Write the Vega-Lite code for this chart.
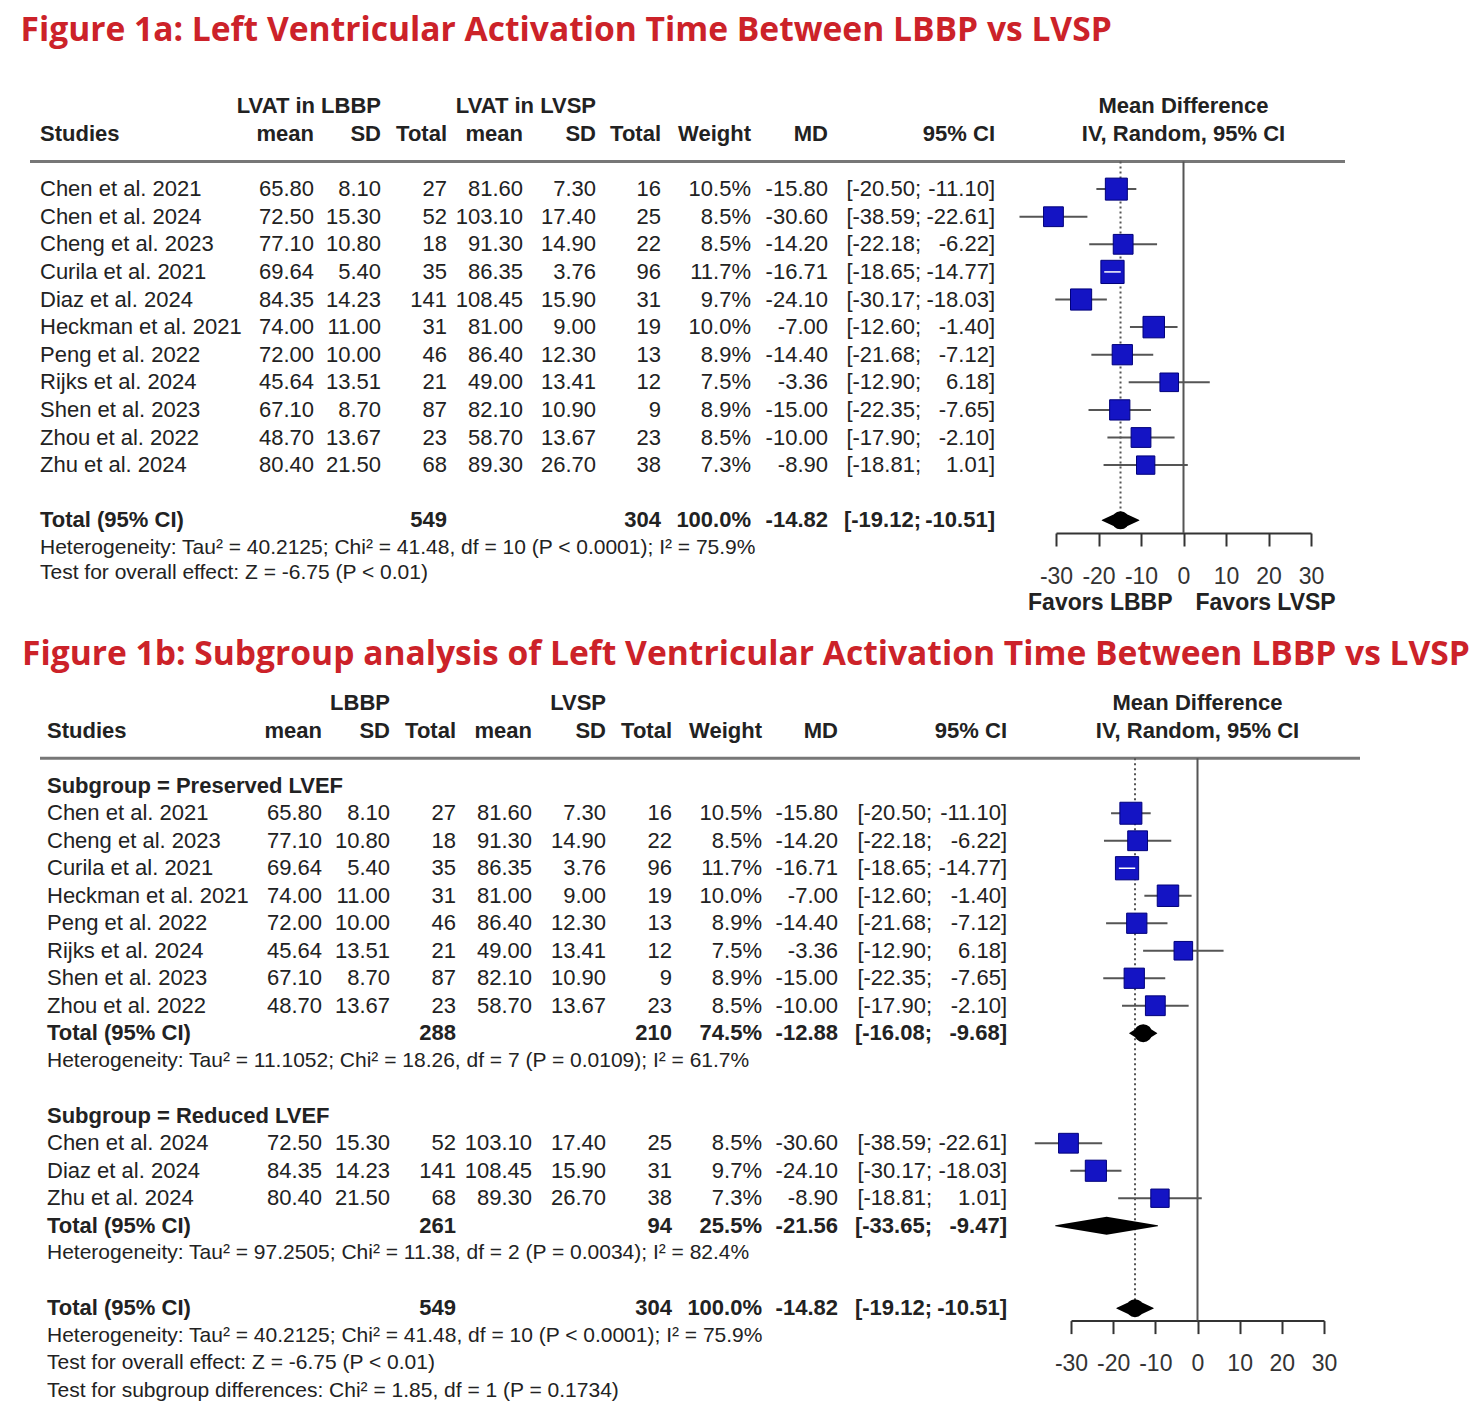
{
"$schema": "https://vega.github.io/schema/vega-lite/v6.json",
"background": "white",
"padding": {"left": 20, "top": 14, "right": 0, "bottom": 0},
"autosize": {"type": "pad"},
"datasets": {
"a": [
{"row":0,"type":"study","label":"Chen et al. 2021","m1":65.80,"s1":8.10,"n1":27,"m2":81.60,"s2":7.30,"n2":16,"w":0.105,"md":-15.80,"lo":-20.50,"hi":-11.10},
{"row":1,"type":"study","label":"Chen et al. 2024","m1":72.50,"s1":15.30,"n1":52,"m2":103.10,"s2":17.40,"n2":25,"w":0.085,"md":-30.60,"lo":-38.59,"hi":-22.61},
{"row":2,"type":"study","label":"Cheng et al. 2023","m1":77.10,"s1":10.80,"n1":18,"m2":91.30,"s2":14.90,"n2":22,"w":0.085,"md":-14.20,"lo":-22.18,"hi":-6.22},
{"row":3,"type":"study","label":"Curila et al. 2021","m1":69.64,"s1":5.40,"n1":35,"m2":86.35,"s2":3.76,"n2":96,"w":0.117,"md":-16.71,"lo":-18.65,"hi":-14.77},
{"row":4,"type":"study","label":"Diaz et al. 2024","m1":84.35,"s1":14.23,"n1":141,"m2":108.45,"s2":15.90,"n2":31,"w":0.097,"md":-24.10,"lo":-30.17,"hi":-18.03},
{"row":5,"type":"study","label":"Heckman et al. 2021","m1":74.00,"s1":11.00,"n1":31,"m2":81.00,"s2":9.00,"n2":19,"w":0.100,"md":-7.00,"lo":-12.60,"hi":-1.40},
{"row":6,"type":"study","label":"Peng et al. 2022","m1":72.00,"s1":10.00,"n1":46,"m2":86.40,"s2":12.30,"n2":13,"w":0.089,"md":-14.40,"lo":-21.68,"hi":-7.12},
{"row":7,"type":"study","label":"Rijks et al. 2024","m1":45.64,"s1":13.51,"n1":21,"m2":49.00,"s2":13.41,"n2":12,"w":0.075,"md":-3.36,"lo":-12.90,"hi":6.18},
{"row":8,"type":"study","label":"Shen et al. 2023","m1":67.10,"s1":8.70,"n1":87,"m2":82.10,"s2":10.90,"n2":9,"w":0.089,"md":-15.00,"lo":-22.35,"hi":-7.65},
{"row":9,"type":"study","label":"Zhou et al. 2022","m1":48.70,"s1":13.67,"n1":23,"m2":58.70,"s2":13.67,"n2":23,"w":0.085,"md":-10.00,"lo":-17.90,"hi":-2.10},
{"row":10,"type":"study","label":"Zhu et al. 2024","m1":80.40,"s1":21.50,"n1":68,"m2":89.30,"s2":26.70,"n2":38,"w":0.073,"md":-8.90,"lo":-18.81,"hi":1.01},
{"row":12,"type":"total","sub":"Overall","label":"Total (95% CI)","n1":549,"n2":304,"w":1.0,"md":-14.82,"lo":-19.12,"hi":-10.51},
{"row":13,"type":"het","label":"Heterogeneity: Tau² = 40.2125; Chi² = 41.48, df = 10 (P < 0.0001); I² = 75.9%"},
{"row":13.9,"type":"het","label":"Test for overall effect: Z = -6.75 (P < 0.01)"}
],
"ha": [
{"row":-2,"col":"study","label":"Studies"},
{"row":-2,"col":"m1","label":"mean"},
{"row":-3,"col":"s1","label":"LVAT in LBBP"},
{"row":-2,"col":"s1","label":"SD"},
{"row":-2,"col":"n1","label":"Total"},
{"row":-2,"col":"m2","label":"mean"},
{"row":-3,"col":"s2","label":"LVAT in LVSP"},
{"row":-2,"col":"s2","label":"SD"},
{"row":-2,"col":"n2","label":"Total"},
{"row":-2,"col":"w","label":"Weight"},
{"row":-2,"col":"md","label":"MD"},
{"row":-2,"col":"ci","label":"95% CI"},
{"row":-3,"col":"forest","label":"Mean Difference"},
{"row":-2,"col":"forest","label":"IV, Random, 95% CI"},
{"row":-1,"col":"line","label":""},
{"row":15,"col":"favorL","label":"Favors LBBP"},
{"row":15,"col":"favorR","label":"Favors LVSP"}
],
"b": [
{"row":0,"type":"sub","label":"Subgroup = Preserved LVEF"},
{"row":1,"type":"study","label":"Chen et al. 2021","m1":65.80,"s1":8.10,"n1":27,"m2":81.60,"s2":7.30,"n2":16,"w":0.105,"md":-15.80,"lo":-20.50,"hi":-11.10},
{"row":2,"type":"study","label":"Cheng et al. 2023","m1":77.10,"s1":10.80,"n1":18,"m2":91.30,"s2":14.90,"n2":22,"w":0.085,"md":-14.20,"lo":-22.18,"hi":-6.22},
{"row":3,"type":"study","label":"Curila et al. 2021","m1":69.64,"s1":5.40,"n1":35,"m2":86.35,"s2":3.76,"n2":96,"w":0.117,"md":-16.71,"lo":-18.65,"hi":-14.77},
{"row":4,"type":"study","label":"Heckman et al. 2021","m1":74.00,"s1":11.00,"n1":31,"m2":81.00,"s2":9.00,"n2":19,"w":0.100,"md":-7.00,"lo":-12.60,"hi":-1.40},
{"row":5,"type":"study","label":"Peng et al. 2022","m1":72.00,"s1":10.00,"n1":46,"m2":86.40,"s2":12.30,"n2":13,"w":0.089,"md":-14.40,"lo":-21.68,"hi":-7.12},
{"row":6,"type":"study","label":"Rijks et al. 2024","m1":45.64,"s1":13.51,"n1":21,"m2":49.00,"s2":13.41,"n2":12,"w":0.075,"md":-3.36,"lo":-12.90,"hi":6.18},
{"row":7,"type":"study","label":"Shen et al. 2023","m1":67.10,"s1":8.70,"n1":87,"m2":82.10,"s2":10.90,"n2":9,"w":0.089,"md":-15.00,"lo":-22.35,"hi":-7.65},
{"row":8,"type":"study","label":"Zhou et al. 2022","m1":48.70,"s1":13.67,"n1":23,"m2":58.70,"s2":13.67,"n2":23,"w":0.085,"md":-10.00,"lo":-17.90,"hi":-2.10},
{"row":9,"type":"total","sub":"Preserved","label":"Total (95% CI)","n1":288,"n2":210,"w":0.745,"md":-12.88,"lo":-16.08,"hi":-9.68},
{"row":10,"type":"het","label":"Heterogeneity: Tau² = 11.1052; Chi² = 18.26, df = 7 (P = 0.0109); I² = 61.7%"},
{"row":12,"type":"sub","label":"Subgroup = Reduced LVEF"},
{"row":13,"type":"study","label":"Chen et al. 2024","m1":72.50,"s1":15.30,"n1":52,"m2":103.10,"s2":17.40,"n2":25,"w":0.085,"md":-30.60,"lo":-38.59,"hi":-22.61},
{"row":14,"type":"study","label":"Diaz et al. 2024","m1":84.35,"s1":14.23,"n1":141,"m2":108.45,"s2":15.90,"n2":31,"w":0.097,"md":-24.10,"lo":-30.17,"hi":-18.03},
{"row":15,"type":"study","label":"Zhu et al. 2024","m1":80.40,"s1":21.50,"n1":68,"m2":89.30,"s2":26.70,"n2":38,"w":0.073,"md":-8.90,"lo":-18.81,"hi":1.01},
{"row":16,"type":"total","sub":"Reduced","label":"Total (95% CI)","n1":261,"n2":94,"w":0.255,"md":-21.56,"lo":-33.65,"hi":-9.47},
{"row":17,"type":"het","label":"Heterogeneity: Tau² = 97.2505; Chi² = 11.38, df = 2 (P = 0.0034); I² = 82.4%"},
{"row":19,"type":"total","sub":"Overall","label":"Total (95% CI)","n1":549,"n2":304,"w":1.0,"md":-14.82,"lo":-19.12,"hi":-10.51},
{"row":20,"type":"het","label":"Heterogeneity: Tau² = 40.2125; Chi² = 41.48, df = 10 (P < 0.0001); I² = 75.9%"},
{"row":21,"type":"het","label":"Test for overall effect: Z = -6.75 (P < 0.01)"},
{"row":22,"type":"het","label":"Test for subgroup differences: Chi² = 1.85, df = 1 (P = 0.1734)"}
],
"hb": [
{"row":-2,"col":"study","label":"Studies"},
{"row":-2,"col":"m1","label":"mean"},
{"row":-3,"col":"s1","label":"LBBP"},
{"row":-2,"col":"s1","label":"SD"},
{"row":-2,"col":"n1","label":"Total"},
{"row":-2,"col":"m2","label":"mean"},
{"row":-3,"col":"s2","label":"LVSP"},
{"row":-2,"col":"s2","label":"SD"},
{"row":-2,"col":"n2","label":"Total"},
{"row":-2,"col":"w","label":"Weight"},
{"row":-2,"col":"md","label":"MD"},
{"row":-2,"col":"ci","label":"95% CI"},
{"row":-3,"col":"forest","label":"Mean Difference"},
{"row":-2,"col":"forest","label":"IV, Random, 95% CI"},
{"row":-1,"col":"line","label":""}
]
},
"spacing": 22,
"vconcat": [
{
"title": {"text": "Figure 1a: Left Ventricular Activation Time Between LBBP vs LVSP", "anchor": "start", "font": "Open Sans", "fontSize": 33.6, "fontWeight": "bold", "color": "#cc2229", "dx": -8, "offset": 22, "baseline": "middle"},
"bounds": "flush",
"spacing": 0,
"hconcat": [
{"width": 10, "height": 502.3, "data": {"values": [{"line": "separator"}]}, "mark": {"type": "rule", "color": "#777", "strokeWidth": 3}, "encoding": {"x": {"value": 0}, "x2": {"value": "width"}, "y": {"datum": -1, "scale": {"domain": [-3.7, 14.5], "reverse": true}, "axis": null}}},
{"width": 210, "height": 502.3, "data": {"name": "a"},
 "encoding": {"y": {"field": "row", "type": "quantitative", "scale": {"domain": [-3.7, 14.5], "reverse": true}, "axis": null}},
 "layer": [
  {"data": {"name": "ha"}, "transform": [{"filter": "datum.col === 'study'"}], "mark": {"type": "text", "align": "left", "fontWeight": "bold"}, "encoding": {"x": {"value": 0}, "text": {"field": "label"}}},
  {"data": {"name": "ha"}, "transform": [{"filter": "datum.col === 'line'"}], "mark": {"type": "rule", "color": "#777", "strokeWidth": 3}, "encoding": {"x": {"value": 0}, "x2": {"value": "width"}}},
  {"transform": [{"filter": "isValid(datum.label)"}], "mark": {"type": "text", "align": "left", "fontWeight": {"expr": "datum.type === 'total' || datum.type === 'sub' ? 'bold' : 'normal'"}, "fontSize": {"expr": "datum.type === 'het' ? 21 : 22"}}, "encoding": {"x": {"value": 0}, "text": {"field": "label"}}}
 ]},
{"width": 64, "height": 502.3, "data": {"name": "a"},
 "encoding": {"y": {"field": "row", "type": "quantitative", "scale": {"domain": [-3.7, 14.5], "reverse": true}, "axis": null}},
 "layer": [
  {"data": {"name": "ha"}, "transform": [{"filter": "datum.col === 'm1'"}], "mark": {"type": "text", "align": "right", "fontWeight": "bold"}, "encoding": {"x": {"value": "width"}, "text": {"field": "label"}}},
  {"data": {"name": "ha"}, "transform": [{"filter": "datum.col === 'line'"}], "mark": {"type": "rule", "color": "#777", "strokeWidth": 3}, "encoding": {"x": {"value": 0}, "x2": {"value": "width"}}},
  {"transform": [{"filter": "isValid(datum.m1)"}], "mark": {"type": "text", "align": "right"}, "encoding": {"x": {"value": "width"}, "text": {"field": "m1", "type": "quantitative", "format": ".2f"}}}
 ]},
{"width": 67, "height": 502.3, "data": {"name": "a"},
 "encoding": {"y": {"field": "row", "type": "quantitative", "scale": {"domain": [-3.7, 14.5], "reverse": true}, "axis": null}},
 "layer": [
  {"data": {"name": "ha"}, "transform": [{"filter": "datum.col === 's1'"}], "mark": {"type": "text", "align": "right", "fontWeight": "bold"}, "encoding": {"x": {"value": "width"}, "text": {"field": "label"}}},
  {"data": {"name": "ha"}, "transform": [{"filter": "datum.col === 'line'"}], "mark": {"type": "rule", "color": "#777", "strokeWidth": 3}, "encoding": {"x": {"value": 0}, "x2": {"value": "width"}}},
  {"transform": [{"filter": "isValid(datum.s1)"}], "mark": {"type": "text", "align": "right"}, "encoding": {"x": {"value": "width"}, "text": {"field": "s1", "type": "quantitative", "format": ".2f"}}}
 ]},
{"width": 66, "height": 502.3, "data": {"name": "a"},
 "encoding": {"y": {"field": "row", "type": "quantitative", "scale": {"domain": [-3.7, 14.5], "reverse": true}, "axis": null}},
 "layer": [
  {"data": {"name": "ha"}, "transform": [{"filter": "datum.col === 'n1'"}], "mark": {"type": "text", "align": "right", "fontWeight": "bold"}, "encoding": {"x": {"value": "width"}, "text": {"field": "label"}}},
  {"data": {"name": "ha"}, "transform": [{"filter": "datum.col === 'line'"}], "mark": {"type": "rule", "color": "#777", "strokeWidth": 3}, "encoding": {"x": {"value": 0}, "x2": {"value": "width"}}},
  {"transform": [{"filter": "isValid(datum.n1)"}], "mark": {"type": "text", "align": "right", "fontWeight": {"expr": "datum.type === 'total' ? 'bold' : 'normal'"}}, "encoding": {"x": {"value": "width"}, "text": {"field": "n1", "type": "quantitative", "format": "d"}}}
 ]},
{"width": 76, "height": 502.3, "data": {"name": "a"},
 "encoding": {"y": {"field": "row", "type": "quantitative", "scale": {"domain": [-3.7, 14.5], "reverse": true}, "axis": null}},
 "layer": [
  {"data": {"name": "ha"}, "transform": [{"filter": "datum.col === 'm2'"}], "mark": {"type": "text", "align": "right", "fontWeight": "bold"}, "encoding": {"x": {"value": "width"}, "text": {"field": "label"}}},
  {"data": {"name": "ha"}, "transform": [{"filter": "datum.col === 'line'"}], "mark": {"type": "rule", "color": "#777", "strokeWidth": 3}, "encoding": {"x": {"value": 0}, "x2": {"value": "width"}}},
  {"transform": [{"filter": "isValid(datum.m2)"}], "mark": {"type": "text", "align": "right"}, "encoding": {"x": {"value": "width"}, "text": {"field": "m2", "type": "quantitative", "format": ".2f"}}}
 ]},
{"width": 73, "height": 502.3, "data": {"name": "a"},
 "encoding": {"y": {"field": "row", "type": "quantitative", "scale": {"domain": [-3.7, 14.5], "reverse": true}, "axis": null}},
 "layer": [
  {"data": {"name": "ha"}, "transform": [{"filter": "datum.col === 's2'"}], "mark": {"type": "text", "align": "right", "fontWeight": "bold"}, "encoding": {"x": {"value": "width"}, "text": {"field": "label"}}},
  {"data": {"name": "ha"}, "transform": [{"filter": "datum.col === 'line'"}], "mark": {"type": "rule", "color": "#777", "strokeWidth": 3}, "encoding": {"x": {"value": 0}, "x2": {"value": "width"}}},
  {"transform": [{"filter": "isValid(datum.s2)"}], "mark": {"type": "text", "align": "right"}, "encoding": {"x": {"value": "width"}, "text": {"field": "s2", "type": "quantitative", "format": ".2f"}}}
 ]},
{"width": 65, "height": 502.3, "data": {"name": "a"},
 "encoding": {"y": {"field": "row", "type": "quantitative", "scale": {"domain": [-3.7, 14.5], "reverse": true}, "axis": null}},
 "layer": [
  {"data": {"name": "ha"}, "transform": [{"filter": "datum.col === 'n2'"}], "mark": {"type": "text", "align": "right", "fontWeight": "bold"}, "encoding": {"x": {"value": "width"}, "text": {"field": "label"}}},
  {"data": {"name": "ha"}, "transform": [{"filter": "datum.col === 'line'"}], "mark": {"type": "rule", "color": "#777", "strokeWidth": 3}, "encoding": {"x": {"value": 0}, "x2": {"value": "width"}}},
  {"transform": [{"filter": "isValid(datum.n2)"}], "mark": {"type": "text", "align": "right", "fontWeight": {"expr": "datum.type === 'total' ? 'bold' : 'normal'"}}, "encoding": {"x": {"value": "width"}, "text": {"field": "n2", "type": "quantitative", "format": "d"}}}
 ]},
{"width": 90, "height": 502.3, "data": {"name": "a"},
 "encoding": {"y": {"field": "row", "type": "quantitative", "scale": {"domain": [-3.7, 14.5], "reverse": true}, "axis": null}},
 "layer": [
  {"data": {"name": "ha"}, "transform": [{"filter": "datum.col === 'w'"}], "mark": {"type": "text", "align": "right", "fontWeight": "bold"}, "encoding": {"x": {"value": "width"}, "text": {"field": "label"}}},
  {"data": {"name": "ha"}, "transform": [{"filter": "datum.col === 'line'"}], "mark": {"type": "rule", "color": "#777", "strokeWidth": 3}, "encoding": {"x": {"value": 0}, "x2": {"value": "width"}}},
  {"transform": [{"filter": "isValid(datum.w)"}], "mark": {"type": "text", "align": "right", "fontWeight": {"expr": "datum.type === 'total' ? 'bold' : 'normal'"}}, "encoding": {"x": {"value": "width"}, "text": {"field": "w", "type": "quantitative", "format": ".1%"}}}
 ]},
{"width": 77, "height": 502.3, "data": {"name": "a"},
 "encoding": {"y": {"field": "row", "type": "quantitative", "scale": {"domain": [-3.7, 14.5], "reverse": true}, "axis": null}},
 "layer": [
  {"data": {"name": "ha"}, "transform": [{"filter": "datum.col === 'md'"}], "mark": {"type": "text", "align": "right", "fontWeight": "bold"}, "encoding": {"x": {"value": "width"}, "text": {"field": "label"}}},
  {"data": {"name": "ha"}, "transform": [{"filter": "datum.col === 'line'"}], "mark": {"type": "rule", "color": "#777", "strokeWidth": 3}, "encoding": {"x": {"value": 0}, "x2": {"value": "width"}}},
  {"transform": [{"filter": "isValid(datum.md)"}], "mark": {"type": "text", "align": "right", "fontWeight": {"expr": "datum.type === 'total' ? 'bold' : 'normal'"}}, "encoding": {"x": {"value": "width"}, "text": {"field": "md", "type": "quantitative", "format": ".2f"}}}
 ]},
{"width": 93, "height": 502.3, "data": {"name": "a"},
 "encoding": {"y": {"field": "row", "type": "quantitative", "scale": {"domain": [-3.7, 14.5], "reverse": true}, "axis": null}},
 "layer": [
  {"data": {"name": "ha"}, "transform": [{"filter": "datum.col === 'line'"}], "mark": {"type": "rule", "color": "#777", "strokeWidth": 3}, "encoding": {"x": {"value": 0}, "x2": {"value": "width"}}},
  {"transform": [{"filter": "isValid(datum.lo)"}, {"calculate": "'[' + format(datum.lo, '.2f') + ';'", "as": "cil"}], "mark": {"type": "text", "align": "right", "fontWeight": {"expr": "datum.type === 'total' ? 'bold' : 'normal'"}}, "encoding": {"x": {"value": "width"}, "text": {"field": "cil"}}}
 ]},
{"width": 74, "height": 502.3, "data": {"name": "a"},
 "encoding": {"y": {"field": "row", "type": "quantitative", "scale": {"domain": [-3.7, 14.5], "reverse": true}, "axis": null}},
 "layer": [
  {"data": {"name": "ha"}, "transform": [{"filter": "datum.col === 'ci'"}], "mark": {"type": "text", "align": "right", "fontWeight": "bold"}, "encoding": {"x": {"value": "width"}, "text": {"field": "label"}}},
  {"data": {"name": "ha"}, "transform": [{"filter": "datum.col === 'line'"}], "mark": {"type": "rule", "color": "#777", "strokeWidth": 3}, "encoding": {"x": {"value": 0}, "x2": {"value": "width"}}},
  {"transform": [{"filter": "isValid(datum.hi)"}, {"calculate": "format(datum.hi, '.2f') + ']'", "as": "cir"}], "mark": {"type": "text", "align": "right", "fontWeight": {"expr": "datum.type === 'total' ? 'bold' : 'normal'"}}, "encoding": {"x": {"value": "width"}, "text": {"field": "cir"}}}
 ]},
{"width": 61, "height": 502.3, "data": {"values": [{"line": "separator"}]}, "mark": {"type": "rule", "color": "#777", "strokeWidth": 3}, "encoding": {"x": {"value": 0}, "x2": {"value": "width"}, "y": {"datum": -1, "scale": {"domain": [-3.7, 14.5], "reverse": true}, "axis": null}}},
{"width": 255, "height": 446.0, "data": {"name": "a"},
 "encoding": {"y": {"field": "row", "type": "quantitative", "scale": {"domain": [-3.7, 12.46], "reverse": true}, "axis": null}},
 "layer": [
  {"transform": [{"filter": "datum.type === 'study'"}], "mark": {"type": "rule", "color": "#555", "strokeWidth": 2}, "encoding": {"x": {"field": "lo", "type": "quantitative", "scale": {"domain": [-30, 30], "nice": false, "zero": false}, "axis": {"values": [-30, -20, -10, 0, 10, 20, 30], "title": null, "labelFlush": false, "labelOverlap": false}}, "x2": {"field": "hi"}}},
  {"data": {"name": "ha"}, "transform": [{"filter": "datum.col === 'forest'"}], "mark": {"type": "text", "fontWeight": "bold"}, "encoding": {"text": {"field": "label"}}},
  {"data": {"name": "ha"}, "transform": [{"filter": "datum.col === 'line'"}], "mark": {"type": "rule", "color": "#777", "strokeWidth": 3}, "encoding": {"x": {"value": 0}, "x2": {"value": "width"}}},
  {"data": {"name": "ha"}, "transform": [{"filter": "datum.col === 'line'"}], "mark": {"type": "rule", "color": "#555", "strokeWidth": 2, "orient": "vertical"}, "encoding": {"y2": {"value": "height"}}},
  {"transform": [{"filter": "datum.sub === 'Overall'"}], "mark": {"type": "rule", "color": "#555", "strokeWidth": 2, "strokeDash": [2, 3]}, "encoding": {"x": {"field": "md", "type": "quantitative"}, "y": {"datum": -1, "axis": null}, "y2": {"field": "row"}}},
  {"transform": [{"filter": "datum.type === 'study'"}], "mark": {"type": "point", "shape": "square", "filled": true, "fill": "#1414c4", "stroke": "#00007a", "strokeWidth": 1, "opacity": 1}, "encoding": {"x": {"field": "md", "type": "quantitative"}, "size": {"field": "w", "type": "quantitative", "scale": {"domain": [0, 1], "range": [0, 4610]}, "legend": null}}},
  {"transform": [{"filter": "datum.type === 'study' && (datum.hi - datum.lo) * 4.25 < sqrt(4610 * datum.w)"}], "mark": {"type": "rule", "color": "white", "strokeWidth": 1.5}, "encoding": {"x": {"field": "lo", "type": "quantitative"}, "x2": {"field": "hi"}}},
  {"transform": [{"filter": "datum.type === 'total'"}, {"fold": ["lo", "md", "hi"], "as": ["key", "value"]}], "mark": {"type": "trail", "color": "#000"}, "encoding": {"x": {"field": "value", "type": "quantitative"}, "detail": {"field": "row"}, "order": {"field": "value", "type": "quantitative"}, "size": {"condition": {"test": "datum.key === 'md'", "value": 18}, "value": 0}}},
  {"data": {"name": "ha"}, "transform": [{"filter": "datum.col === 'favorL'"}], "mark": {"type": "text", "fontWeight": "bold", "fontSize": 23, "align": "right", "dx": -11}, "encoding": {"text": {"field": "label"}}},
  {"data": {"name": "ha"}, "transform": [{"filter": "datum.col === 'favorR'"}], "mark": {"type": "text", "fontWeight": "bold", "fontSize": 23, "align": "left", "dx": 12}, "encoding": {"text": {"field": "label"}}}
 ]},
{"width": 34, "height": 502.3, "data": {"values": [{"line": "separator"}]}, "mark": {"type": "rule", "color": "#777", "strokeWidth": 3}, "encoding": {"x": {"value": 0}, "x2": {"value": "width"}, "y": {"datum": -1, "scale": {"domain": [-3.7, 14.5], "reverse": true}, "axis": null}}}
]
},
{
"title": {"text": "Figure 1b: Subgroup analysis of Left Ventricular Activation Time Between LBBP vs LVSP", "anchor": "start", "font": "Open Sans", "fontSize": 33.6, "fontWeight": "bold", "color": "#cc2229", "dx": -8, "offset": -5, "baseline": "middle"},
"bounds": "flush",
"spacing": 0,
"hconcat": [
{"width": 10, "height": 723.25, "data": {"values": [{"line": "none"}]}, "mark": {"type": "rule", "opacity": 0}, "encoding": {"x": {"value": 0}, "x2": {"value": "width"}, "y": {"datum": -1, "scale": {"domain": [-3.7, 22.6], "reverse": true}, "axis": null}}},
{"width": 7, "height": 723.25, "data": {"values": [{"line": "separator"}]}, "mark": {"type": "rule", "color": "#777", "strokeWidth": 3}, "encoding": {"x": {"value": 0}, "x2": {"value": "width"}, "y": {"datum": -1, "scale": {"domain": [-3.7, 22.6], "reverse": true}, "axis": null}}},
{"width": 215, "height": 723.25, "data": {"name": "b"},
 "encoding": {"y": {"field": "row", "type": "quantitative", "scale": {"domain": [-3.7, 22.6], "reverse": true}, "axis": null}},
 "layer": [
  {"data": {"name": "hb"}, "transform": [{"filter": "datum.col === 'study'"}], "mark": {"type": "text", "align": "left", "fontWeight": "bold"}, "encoding": {"x": {"value": 0}, "text": {"field": "label"}}},
  {"data": {"name": "hb"}, "transform": [{"filter": "datum.col === 'line'"}], "mark": {"type": "rule", "color": "#777", "strokeWidth": 3}, "encoding": {"x": {"value": 0}, "x2": {"value": "width"}}},
  {"transform": [{"filter": "isValid(datum.label)"}], "mark": {"type": "text", "align": "left", "fontWeight": {"expr": "datum.type === 'total' || datum.type === 'sub' ? 'bold' : 'normal'"}, "fontSize": {"expr": "datum.type === 'het' ? 21 : 22"}}, "encoding": {"x": {"value": 0}, "text": {"field": "label"}}}
 ]},
{"width": 60, "height": 723.25, "data": {"name": "b"},
 "encoding": {"y": {"field": "row", "type": "quantitative", "scale": {"domain": [-3.7, 22.6], "reverse": true}, "axis": null}},
 "layer": [
  {"data": {"name": "hb"}, "transform": [{"filter": "datum.col === 'm1'"}], "mark": {"type": "text", "align": "right", "fontWeight": "bold"}, "encoding": {"x": {"value": "width"}, "text": {"field": "label"}}},
  {"data": {"name": "hb"}, "transform": [{"filter": "datum.col === 'line'"}], "mark": {"type": "rule", "color": "#777", "strokeWidth": 3}, "encoding": {"x": {"value": 0}, "x2": {"value": "width"}}},
  {"transform": [{"filter": "isValid(datum.m1)"}], "mark": {"type": "text", "align": "right"}, "encoding": {"x": {"value": "width"}, "text": {"field": "m1", "type": "quantitative", "format": ".2f"}}}
 ]},
{"width": 68, "height": 723.25, "data": {"name": "b"},
 "encoding": {"y": {"field": "row", "type": "quantitative", "scale": {"domain": [-3.7, 22.6], "reverse": true}, "axis": null}},
 "layer": [
  {"data": {"name": "hb"}, "transform": [{"filter": "datum.col === 's1'"}], "mark": {"type": "text", "align": "right", "fontWeight": "bold"}, "encoding": {"x": {"value": "width"}, "text": {"field": "label"}}},
  {"data": {"name": "hb"}, "transform": [{"filter": "datum.col === 'line'"}], "mark": {"type": "rule", "color": "#777", "strokeWidth": 3}, "encoding": {"x": {"value": 0}, "x2": {"value": "width"}}},
  {"transform": [{"filter": "isValid(datum.s1)"}], "mark": {"type": "text", "align": "right"}, "encoding": {"x": {"value": "width"}, "text": {"field": "s1", "type": "quantitative", "format": ".2f"}}}
 ]},
{"width": 66, "height": 723.25, "data": {"name": "b"},
 "encoding": {"y": {"field": "row", "type": "quantitative", "scale": {"domain": [-3.7, 22.6], "reverse": true}, "axis": null}},
 "layer": [
  {"data": {"name": "hb"}, "transform": [{"filter": "datum.col === 'n1'"}], "mark": {"type": "text", "align": "right", "fontWeight": "bold"}, "encoding": {"x": {"value": "width"}, "text": {"field": "label"}}},
  {"data": {"name": "hb"}, "transform": [{"filter": "datum.col === 'line'"}], "mark": {"type": "rule", "color": "#777", "strokeWidth": 3}, "encoding": {"x": {"value": 0}, "x2": {"value": "width"}}},
  {"transform": [{"filter": "isValid(datum.n1)"}], "mark": {"type": "text", "align": "right", "fontWeight": {"expr": "datum.type === 'total' ? 'bold' : 'normal'"}}, "encoding": {"x": {"value": "width"}, "text": {"field": "n1", "type": "quantitative", "format": "d"}}}
 ]},
{"width": 76, "height": 723.25, "data": {"name": "b"},
 "encoding": {"y": {"field": "row", "type": "quantitative", "scale": {"domain": [-3.7, 22.6], "reverse": true}, "axis": null}},
 "layer": [
  {"data": {"name": "hb"}, "transform": [{"filter": "datum.col === 'm2'"}], "mark": {"type": "text", "align": "right", "fontWeight": "bold"}, "encoding": {"x": {"value": "width"}, "text": {"field": "label"}}},
  {"data": {"name": "hb"}, "transform": [{"filter": "datum.col === 'line'"}], "mark": {"type": "rule", "color": "#777", "strokeWidth": 3}, "encoding": {"x": {"value": 0}, "x2": {"value": "width"}}},
  {"transform": [{"filter": "isValid(datum.m2)"}], "mark": {"type": "text", "align": "right"}, "encoding": {"x": {"value": "width"}, "text": {"field": "m2", "type": "quantitative", "format": ".2f"}}}
 ]},
{"width": 74, "height": 723.25, "data": {"name": "b"},
 "encoding": {"y": {"field": "row", "type": "quantitative", "scale": {"domain": [-3.7, 22.6], "reverse": true}, "axis": null}},
 "layer": [
  {"data": {"name": "hb"}, "transform": [{"filter": "datum.col === 's2'"}], "mark": {"type": "text", "align": "right", "fontWeight": "bold"}, "encoding": {"x": {"value": "width"}, "text": {"field": "label"}}},
  {"data": {"name": "hb"}, "transform": [{"filter": "datum.col === 'line'"}], "mark": {"type": "rule", "color": "#777", "strokeWidth": 3}, "encoding": {"x": {"value": 0}, "x2": {"value": "width"}}},
  {"transform": [{"filter": "isValid(datum.s2)"}], "mark": {"type": "text", "align": "right"}, "encoding": {"x": {"value": "width"}, "text": {"field": "s2", "type": "quantitative", "format": ".2f"}}}
 ]},
{"width": 66, "height": 723.25, "data": {"name": "b"},
 "encoding": {"y": {"field": "row", "type": "quantitative", "scale": {"domain": [-3.7, 22.6], "reverse": true}, "axis": null}},
 "layer": [
  {"data": {"name": "hb"}, "transform": [{"filter": "datum.col === 'n2'"}], "mark": {"type": "text", "align": "right", "fontWeight": "bold"}, "encoding": {"x": {"value": "width"}, "text": {"field": "label"}}},
  {"data": {"name": "hb"}, "transform": [{"filter": "datum.col === 'line'"}], "mark": {"type": "rule", "color": "#777", "strokeWidth": 3}, "encoding": {"x": {"value": 0}, "x2": {"value": "width"}}},
  {"transform": [{"filter": "isValid(datum.n2)"}], "mark": {"type": "text", "align": "right", "fontWeight": {"expr": "datum.type === 'total' ? 'bold' : 'normal'"}}, "encoding": {"x": {"value": "width"}, "text": {"field": "n2", "type": "quantitative", "format": "d"}}}
 ]},
{"width": 90, "height": 723.25, "data": {"name": "b"},
 "encoding": {"y": {"field": "row", "type": "quantitative", "scale": {"domain": [-3.7, 22.6], "reverse": true}, "axis": null}},
 "layer": [
  {"data": {"name": "hb"}, "transform": [{"filter": "datum.col === 'w'"}], "mark": {"type": "text", "align": "right", "fontWeight": "bold"}, "encoding": {"x": {"value": "width"}, "text": {"field": "label"}}},
  {"data": {"name": "hb"}, "transform": [{"filter": "datum.col === 'line'"}], "mark": {"type": "rule", "color": "#777", "strokeWidth": 3}, "encoding": {"x": {"value": 0}, "x2": {"value": "width"}}},
  {"transform": [{"filter": "isValid(datum.w)"}], "mark": {"type": "text", "align": "right", "fontWeight": {"expr": "datum.type === 'total' ? 'bold' : 'normal'"}}, "encoding": {"x": {"value": "width"}, "text": {"field": "w", "type": "quantitative", "format": ".1%"}}}
 ]},
{"width": 76, "height": 723.25, "data": {"name": "b"},
 "encoding": {"y": {"field": "row", "type": "quantitative", "scale": {"domain": [-3.7, 22.6], "reverse": true}, "axis": null}},
 "layer": [
  {"data": {"name": "hb"}, "transform": [{"filter": "datum.col === 'md'"}], "mark": {"type": "text", "align": "right", "fontWeight": "bold"}, "encoding": {"x": {"value": "width"}, "text": {"field": "label"}}},
  {"data": {"name": "hb"}, "transform": [{"filter": "datum.col === 'line'"}], "mark": {"type": "rule", "color": "#777", "strokeWidth": 3}, "encoding": {"x": {"value": 0}, "x2": {"value": "width"}}},
  {"transform": [{"filter": "isValid(datum.md)"}], "mark": {"type": "text", "align": "right", "fontWeight": {"expr": "datum.type === 'total' ? 'bold' : 'normal'"}}, "encoding": {"x": {"value": "width"}, "text": {"field": "md", "type": "quantitative", "format": ".2f"}}}
 ]},
{"width": 94, "height": 723.25, "data": {"name": "b"},
 "encoding": {"y": {"field": "row", "type": "quantitative", "scale": {"domain": [-3.7, 22.6], "reverse": true}, "axis": null}},
 "layer": [
  {"data": {"name": "hb"}, "transform": [{"filter": "datum.col === 'line'"}], "mark": {"type": "rule", "color": "#777", "strokeWidth": 3}, "encoding": {"x": {"value": 0}, "x2": {"value": "width"}}},
  {"transform": [{"filter": "isValid(datum.lo)"}, {"calculate": "'[' + format(datum.lo, '.2f') + ';'", "as": "cil"}], "mark": {"type": "text", "align": "right", "fontWeight": {"expr": "datum.type === 'total' ? 'bold' : 'normal'"}}, "encoding": {"x": {"value": "width"}, "text": {"field": "cil"}}}
 ]},
{"width": 75, "height": 723.25, "data": {"name": "b"},
 "encoding": {"y": {"field": "row", "type": "quantitative", "scale": {"domain": [-3.7, 22.6], "reverse": true}, "axis": null}},
 "layer": [
  {"data": {"name": "hb"}, "transform": [{"filter": "datum.col === 'ci'"}], "mark": {"type": "text", "align": "right", "fontWeight": "bold"}, "encoding": {"x": {"value": "width"}, "text": {"field": "label"}}},
  {"data": {"name": "hb"}, "transform": [{"filter": "datum.col === 'line'"}], "mark": {"type": "rule", "color": "#777", "strokeWidth": 3}, "encoding": {"x": {"value": 0}, "x2": {"value": "width"}}},
  {"transform": [{"filter": "isValid(datum.hi)"}, {"calculate": "format(datum.hi, '.2f') + ']'", "as": "cir"}], "mark": {"type": "text", "align": "right", "fontWeight": {"expr": "datum.type === 'total' ? 'bold' : 'normal'"}}, "encoding": {"x": {"value": "width"}, "text": {"field": "cir"}}}
 ]},
{"width": 64, "height": 723.25, "data": {"values": [{"line": "separator"}]}, "mark": {"type": "rule", "color": "#777", "strokeWidth": 3}, "encoding": {"x": {"value": 0}, "x2": {"value": "width"}, "y": {"datum": -1, "scale": {"domain": [-3.7, 22.6], "reverse": true}, "axis": null}}},
{"width": 253, "height": 636.6, "data": {"name": "b"},
 "encoding": {"y": {"field": "row", "type": "quantitative", "scale": {"domain": [-3.7, 19.45], "reverse": true}, "axis": null}},
 "layer": [
  {"transform": [{"filter": "datum.type === 'study'"}], "mark": {"type": "rule", "color": "#555", "strokeWidth": 2}, "encoding": {"x": {"field": "lo", "type": "quantitative", "scale": {"domain": [-30, 30], "nice": false, "zero": false}, "axis": {"values": [-30, -20, -10, 0, 10, 20, 30], "title": null, "labelFlush": false, "labelOverlap": false}}, "x2": {"field": "hi"}}},
  {"data": {"name": "hb"}, "transform": [{"filter": "datum.col === 'forest'"}], "mark": {"type": "text", "fontWeight": "bold"}, "encoding": {"text": {"field": "label"}}},
  {"data": {"name": "hb"}, "transform": [{"filter": "datum.col === 'line'"}], "mark": {"type": "rule", "color": "#777", "strokeWidth": 3}, "encoding": {"x": {"value": 0}, "x2": {"value": "width"}}},
  {"data": {"name": "hb"}, "transform": [{"filter": "datum.col === 'line'"}], "mark": {"type": "rule", "color": "#555", "strokeWidth": 2, "orient": "vertical"}, "encoding": {"y2": {"value": "height"}}},
  {"transform": [{"filter": "datum.sub === 'Overall'"}], "mark": {"type": "rule", "color": "#555", "strokeWidth": 2, "strokeDash": [2, 3]}, "encoding": {"x": {"field": "md", "type": "quantitative"}, "y": {"datum": -1, "axis": null}, "y2": {"field": "row"}}},
  {"transform": [{"filter": "datum.type === 'study'"}], "mark": {"type": "point", "shape": "square", "filled": true, "fill": "#1414c4", "stroke": "#00007a", "strokeWidth": 1, "opacity": 1}, "encoding": {"x": {"field": "md", "type": "quantitative"}, "size": {"field": "w", "type": "quantitative", "scale": {"domain": [0, 1], "range": [0, 4610]}, "legend": null}}},
  {"transform": [{"filter": "datum.type === 'study' && (datum.hi - datum.lo) * 4.22 < sqrt(4610 * datum.w)"}], "mark": {"type": "rule", "color": "white", "strokeWidth": 1.5}, "encoding": {"x": {"field": "lo", "type": "quantitative"}, "x2": {"field": "hi"}}},
  {"transform": [{"filter": "datum.type === 'total'"}, {"fold": ["lo", "md", "hi"], "as": ["key", "value"]}], "mark": {"type": "trail", "color": "#000"}, "encoding": {"x": {"field": "value", "type": "quantitative"}, "detail": {"field": "row"}, "order": {"field": "value", "type": "quantitative"}, "size": {"condition": {"test": "datum.key === 'md'", "value": 18}, "value": 0}}}
 ]},
{"width": 36, "height": 723.25, "data": {"values": [{"line": "separator"}]}, "mark": {"type": "rule", "color": "#777", "strokeWidth": 3}, "encoding": {"x": {"value": 0}, "x2": {"value": "width"}, "y": {"datum": -1, "scale": {"domain": [-3.7, 22.6], "reverse": true}, "axis": null}}}
]
}
],
"config": {
"view": {"stroke": null},
"locale": {"number": {"decimal": ".", "thousands": ",", "grouping": [3], "currency": ["$", ""], "minus": "-"}},
"text": {"font": "Liberation Sans", "fontSize": 22, "color": "#222"},
"axis": {"labelFont": "Liberation Sans", "labelFontSize": 23, "labelColor": "#333", "tickColor": "#333", "domainColor": "#333", "tickSize": 13, "tickWidth": 2, "domainWidth": 2, "labelPadding": 19, "grid": false},
"axisX": {"labelFlush": false, "labelOverlap": false}
}
}
